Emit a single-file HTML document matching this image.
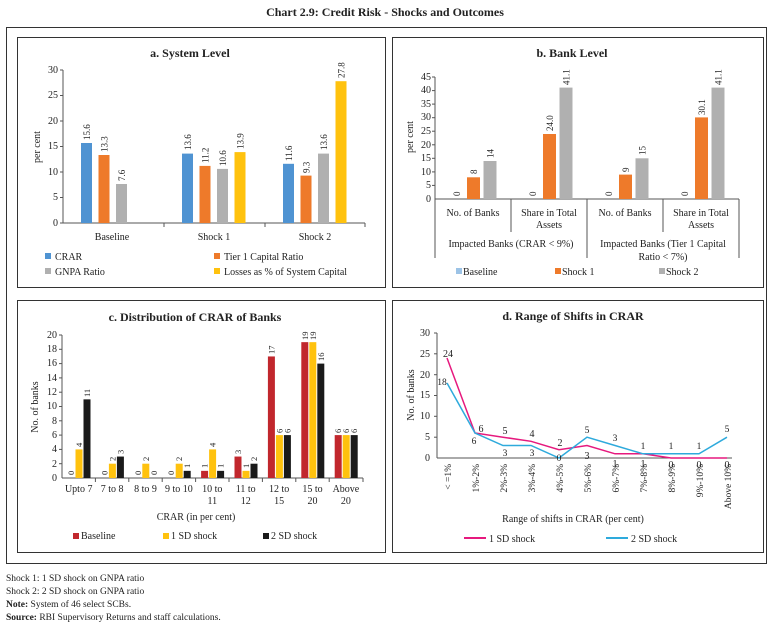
<!DOCTYPE html>
<html><head><meta charset="utf-8"><style>
html,body{margin:0;padding:0;background:#fff}
svg{display:block;font-family:"Liberation Serif",serif}
text{fill:#222}
</style></head><body>
<svg width="771" height="626" viewBox="0 0 771 626" xmlns="http://www.w3.org/2000/svg">
<text x="385" y="16" text-anchor="middle" font-size="12" font-weight="bold">Chart 2.9: Credit Risk - Shocks and Outcomes</text>
<rect x="6.5" y="27.5" width="760" height="536" fill="none" stroke="#333" stroke-width="1"/>
<rect x="17.5" y="37.5" width="368" height="250" fill="none" stroke="#333"/>
<rect x="392.5" y="37.5" width="371" height="250" fill="none" stroke="#333"/>
<rect x="17.5" y="300.5" width="368" height="252" fill="none" stroke="#333"/>
<rect x="392.5" y="300.5" width="371" height="252" fill="none" stroke="#333"/>

<!-- Panel a -->
<text x="190" y="57" text-anchor="middle" font-size="12" font-weight="bold">a. System Level</text>
<g font-size="10" text-anchor="end">
<text x="58" y="226">0</text><text x="58" y="200">5</text><text x="58" y="175">10</text><text x="58" y="149">15</text><text x="58" y="124">20</text><text x="58" y="98">25</text><text x="58" y="73">30</text>
</g>
<g stroke="#555"><line x1="63" y1="70" x2="63" y2="223"/><line x1="63" y1="223" x2="365" y2="223"/>
<line x1="60" y1="223" x2="63" y2="223"/><line x1="60" y1="197.5" x2="63" y2="197.5"/><line x1="60" y1="172" x2="63" y2="172"/><line x1="60" y1="146.5" x2="63" y2="146.5"/><line x1="60" y1="121" x2="63" y2="121"/><line x1="60" y1="95.5" x2="63" y2="95.5"/><line x1="60" y1="70" x2="63" y2="70"/>
<line x1="164" y1="223" x2="164" y2="227"/><line x1="265" y1="223" x2="265" y2="227"/><line x1="365" y1="223" x2="365" y2="227"/></g>
<text transform="translate(40,147) rotate(-90)" text-anchor="middle" font-size="10">per cent</text>
<g fill="#4f93d2"><rect x="81" y="143" width="11" height="80"/><rect x="182" y="153.6" width="11" height="69.4"/><rect x="283" y="163.8" width="11" height="59.2"/></g>
<g fill="#ee7a2a"><rect x="98.5" y="155" width="11" height="68"/><rect x="199.5" y="165.9" width="11" height="57.1"/><rect x="300.5" y="175.6" width="11" height="47.4"/></g>
<g fill="#b0b0b0"><rect x="116" y="184" width="11" height="39"/><rect x="217" y="168.9" width="11" height="54.1"/><rect x="318" y="153.6" width="11" height="69.4"/></g>
<g fill="#ffc20e"><rect x="234.5" y="152.1" width="11" height="70.9"/><rect x="335.5" y="81.2" width="11" height="141.8"/></g>
<g font-size="9">
<text transform="translate(90,140) rotate(-90)">15.6</text><text transform="translate(107.5,152) rotate(-90)">13.3</text><text transform="translate(125,181) rotate(-90)">7.6</text>
<text transform="translate(191,150) rotate(-90)">13.6</text><text transform="translate(208.5,163) rotate(-90)">11.2</text><text transform="translate(226,166) rotate(-90)">10.6</text><text transform="translate(243.5,149) rotate(-90)">13.9</text>
<text transform="translate(292,161) rotate(-90)">11.6</text><text transform="translate(309.5,173) rotate(-90)">9.3</text><text transform="translate(327,150) rotate(-90)">13.6</text><text transform="translate(344.5,78) rotate(-90)">27.8</text>
</g>
<g font-size="10" text-anchor="middle"><text x="112" y="240">Baseline</text><text x="214" y="240">Shock 1</text><text x="315" y="240">Shock 2</text></g>
<g font-size="10">
<rect x="45" y="253" width="6" height="6" fill="#4f93d2"/><text x="55" y="260">CRAR</text>
<rect x="45" y="268" width="6" height="6" fill="#b0b0b0"/><text x="55" y="275">GNPA Ratio</text>
<rect x="214" y="253" width="6" height="6" fill="#ee7a2a"/><text x="224" y="260">Tier 1  Capital Ratio</text>
<rect x="214" y="268" width="6" height="6" fill="#ffc20e"/><text x="224" y="275">Losses as % of System Capital</text>
</g>

<!-- Panel b -->
<text x="572" y="57" text-anchor="middle" font-size="12" font-weight="bold">b. Bank Level</text>
<g font-size="10" text-anchor="end">
<text x="431" y="202">0</text><text x="431" y="188">5</text><text x="431" y="175">10</text><text x="431" y="161">15</text><text x="431" y="148">20</text><text x="431" y="134">25</text><text x="431" y="120">30</text><text x="431" y="107">35</text><text x="431" y="93">40</text><text x="431" y="80">45</text>
</g>
<g stroke="#555"><line x1="435" y1="77" x2="435" y2="258"/><line x1="435" y1="199" x2="739" y2="199"/>
<line x1="432" y1="185.4" x2="435" y2="185.4"/><line x1="432" y1="171.9" x2="435" y2="171.9"/><line x1="432" y1="158.3" x2="435" y2="158.3"/><line x1="432" y1="144.8" x2="435" y2="144.8"/><line x1="432" y1="131.2" x2="435" y2="131.2"/><line x1="432" y1="117.7" x2="435" y2="117.7"/><line x1="432" y1="104.1" x2="435" y2="104.1"/><line x1="432" y1="90.6" x2="435" y2="90.6"/><line x1="432" y1="77" x2="435" y2="77"/>
<line x1="511" y1="199" x2="511" y2="232"/><line x1="587" y1="199" x2="587" y2="258"/><line x1="663" y1="199" x2="663" y2="232"/><line x1="739" y1="199" x2="739" y2="258"/></g>
<text transform="translate(413,137) rotate(-90)" text-anchor="middle" font-size="10">per cent</text>
<g fill="#ee7a2a"><rect x="467" y="177.3" width="13" height="21.7"/><rect x="543" y="134" width="13" height="65"/><rect x="619" y="174.6" width="13" height="24.4"/><rect x="695" y="117.4" width="13" height="81.6"/></g>
<g fill="#b0b0b0"><rect x="483.5" y="161" width="13" height="38"/><rect x="559.5" y="87.6" width="13" height="111.4"/><rect x="635.5" y="158.3" width="13" height="40.7"/><rect x="711.5" y="87.6" width="13" height="111.4"/></g>
<g font-size="9">
<text transform="translate(460,196) rotate(-90)">0</text><text transform="translate(536,196) rotate(-90)">0</text><text transform="translate(612,196) rotate(-90)">0</text><text transform="translate(688,196) rotate(-90)">0</text>
<text transform="translate(477,174) rotate(-90)">8</text><text transform="translate(493.5,158) rotate(-90)">14</text>
<text transform="translate(553,131) rotate(-90)">24.0</text><text transform="translate(569.5,85) rotate(-90)">41.1</text>
<text transform="translate(629,172) rotate(-90)">9</text><text transform="translate(645.5,155) rotate(-90)">15</text>
<text transform="translate(705,115) rotate(-90)">30.1</text><text transform="translate(721.5,85) rotate(-90)">41.1</text>
</g>
<g font-size="10" text-anchor="middle">
<text x="473" y="216">No. of Banks</text><text x="549" y="216">Share in Total</text><text x="549" y="228">Assets</text>
<text x="625" y="216">No. of Banks</text><text x="701" y="216">Share in Total</text><text x="701" y="228">Assets</text>
<text x="511" y="247">Impacted Banks (CRAR &lt; 9%)</text>
<text x="663" y="247">Impacted Banks (Tier 1  Capital</text><text x="663" y="260">Ratio &lt; 7%)</text>
</g>
<g font-size="10">
<rect x="456" y="268" width="6" height="6" fill="#9cc3e6"/><text x="463" y="275">Baseline</text>
<rect x="555" y="268" width="6" height="6" fill="#ee7a2a"/><text x="562" y="275">Shock 1</text>
<rect x="659" y="268" width="6" height="6" fill="#b0b0b0"/><text x="666" y="275">Shock 2</text>
</g>

<!-- Panel c -->
<text x="195" y="321" text-anchor="middle" font-size="12" font-weight="bold">c. Distribution of CRAR of Banks</text>
<g font-size="10" text-anchor="end">
<text x="57" y="481">0</text><text x="57" y="467">2</text><text x="57" y="452">4</text><text x="57" y="438">6</text><text x="57" y="424">8</text><text x="57" y="409">10</text><text x="57" y="395">12</text><text x="57" y="381">14</text><text x="57" y="366">16</text><text x="57" y="352">18</text><text x="57" y="338">20</text>
</g>
<g stroke="#555"><line x1="62" y1="335" x2="62" y2="478"/><line x1="62" y1="478" x2="363" y2="478"/>
<line x1="59" y1="463.7" x2="62" y2="463.7"/><line x1="59" y1="449.4" x2="62" y2="449.4"/><line x1="59" y1="435.1" x2="62" y2="435.1"/><line x1="59" y1="420.8" x2="62" y2="420.8"/><line x1="59" y1="406.5" x2="62" y2="406.5"/><line x1="59" y1="392.2" x2="62" y2="392.2"/><line x1="59" y1="377.9" x2="62" y2="377.9"/><line x1="59" y1="363.6" x2="62" y2="363.6"/><line x1="59" y1="349.3" x2="62" y2="349.3"/><line x1="59" y1="335" x2="62" y2="335"/>
<line x1="95.4" y1="478" x2="95.4" y2="482"/><line x1="128.8" y1="478" x2="128.8" y2="482"/><line x1="162.2" y1="478" x2="162.2" y2="482"/><line x1="195.6" y1="478" x2="195.6" y2="482"/><line x1="229" y1="478" x2="229" y2="482"/><line x1="262.4" y1="478" x2="262.4" y2="482"/><line x1="295.8" y1="478" x2="295.8" y2="482"/><line x1="329.2" y1="478" x2="329.2" y2="482"/><line x1="363" y1="478" x2="363" y2="482"/></g>
<text transform="translate(38,407) rotate(-90)" text-anchor="middle" font-size="10">No. of banks</text>
<g fill="#c1272d"><rect x="201.1" y="470.85" width="7" height="7.15"/><rect x="234.5" y="456.55" width="7" height="21.45"/><rect x="267.9" y="356.45" width="7" height="121.55"/><rect x="301.3" y="342.15" width="7" height="135.85"/><rect x="334.7" y="435.1" width="7" height="42.9"/></g>
<g fill="#ffc20e"><rect x="75.5" y="449.4" width="7" height="28.6"/><rect x="108.9" y="463.7" width="7" height="14.3"/><rect x="142.3" y="463.7" width="7" height="14.3"/><rect x="175.7" y="463.7" width="7" height="14.3"/><rect x="209.1" y="449.4" width="7" height="28.6"/><rect x="242.5" y="470.85" width="7" height="7.15"/><rect x="275.9" y="435.1" width="7" height="42.9"/><rect x="309.3" y="342.15" width="7" height="135.85"/><rect x="342.7" y="435.1" width="7" height="42.9"/></g>
<g fill="#1a1a1a"><rect x="83.5" y="399.35" width="7" height="78.65"/><rect x="116.9" y="456.55" width="7" height="21.45"/><rect x="183.7" y="470.85" width="7" height="7.15"/><rect x="217.1" y="470.85" width="7" height="7.15"/><rect x="250.5" y="463.7" width="7" height="14.3"/><rect x="283.9" y="435.1" width="7" height="42.9"/><rect x="317.3" y="363.6" width="7" height="114.4"/><rect x="350.7" y="435.1" width="7" height="42.9"/></g>
<g font-size="8.5">
<text transform="translate(74,475) rotate(-90)">0</text><text transform="translate(82,447) rotate(-90)">4</text><text transform="translate(90,397) rotate(-90)">11</text>
<text transform="translate(107.4,475) rotate(-90)">0</text><text transform="translate(115.4,461) rotate(-90)">2</text><text transform="translate(123.4,454) rotate(-90)">3</text>
<text transform="translate(140.8,475) rotate(-90)">0</text><text transform="translate(148.8,461) rotate(-90)">2</text><text transform="translate(156.8,475) rotate(-90)">0</text>
<text transform="translate(174.2,475) rotate(-90)">0</text><text transform="translate(182.2,461) rotate(-90)">2</text><text transform="translate(190.2,468) rotate(-90)">1</text>
<text transform="translate(207.6,468) rotate(-90)">1</text><text transform="translate(215.6,447) rotate(-90)">4</text><text transform="translate(223.6,468) rotate(-90)">1</text>
<text transform="translate(241,454) rotate(-90)">3</text><text transform="translate(249,468) rotate(-90)">1</text><text transform="translate(257,461) rotate(-90)">2</text>
<text transform="translate(274.4,354) rotate(-90)">17</text><text transform="translate(282.4,433) rotate(-90)">6</text><text transform="translate(290.4,433) rotate(-90)">6</text>
<text transform="translate(307.8,340) rotate(-90)">19</text><text transform="translate(315.8,340) rotate(-90)">19</text><text transform="translate(323.8,361) rotate(-90)">16</text>
<text transform="translate(341.2,433) rotate(-90)">6</text><text transform="translate(349.2,433) rotate(-90)">6</text><text transform="translate(357.2,433) rotate(-90)">6</text>
</g>
<g font-size="10" text-anchor="middle">
<text x="78.7" y="492">Upto 7</text><text x="112.1" y="492">7 to 8</text><text x="145.5" y="492">8 to 9</text><text x="178.9" y="492">9 to 10</text>
<text x="212.3" y="492">10 to</text><text x="212.3" y="504">11</text><text x="245.7" y="492">11 to</text><text x="245.7" y="504">12</text>
<text x="279.1" y="492">12 to</text><text x="279.1" y="504">15</text><text x="312.5" y="492">15 to</text><text x="312.5" y="504">20</text>
<text x="345.9" y="492">Above</text><text x="345.9" y="504">20</text>
<text x="196" y="520">CRAR (in per cent)</text>
</g>
<g font-size="10">
<rect x="73" y="533" width="6" height="6" fill="#c1272d"/><text x="81" y="539">Baseline</text>
<rect x="163" y="533" width="6" height="6" fill="#ffc20e"/><text x="171" y="539">1 SD shock</text>
<rect x="263" y="533" width="6" height="6" fill="#1a1a1a"/><text x="271" y="539">2 SD shock</text>
</g>

<!-- Panel d -->
<text x="573" y="320" text-anchor="middle" font-size="12" font-weight="bold">d. Range of Shifts in CRAR</text>
<g font-size="10" text-anchor="end">
<text x="430" y="461">0</text><text x="430" y="440">5</text><text x="430" y="419">10</text><text x="430" y="398">15</text><text x="430" y="378">20</text><text x="430" y="357">25</text><text x="430" y="336">30</text>
</g>
<g stroke="#555"><line x1="437" y1="333" x2="437" y2="458"/><line x1="437" y1="458" x2="732" y2="458"/>
<line x1="434" y1="437.2" x2="437" y2="437.2"/><line x1="434" y1="416.3" x2="437" y2="416.3"/><line x1="434" y1="395.5" x2="437" y2="395.5"/><line x1="434" y1="374.7" x2="437" y2="374.7"/><line x1="434" y1="353.8" x2="437" y2="353.8"/><line x1="434" y1="333" x2="437" y2="333"/></g>
<text transform="translate(414,395) rotate(-90)" text-anchor="middle" font-size="10">No. of banks</text>
<polyline fill="none" stroke="#e6197e" stroke-width="1.5" points="447,358 475,433 503,437.2 531,441.3 559,449.7 587,445.5 615,453.8 643,453.8 671,458 699,458 727,458"/>
<polyline fill="none" stroke="#2eaadc" stroke-width="1.5" points="447,383 475,433 503,445.5 531,445.5 559,458 587,437.2 615,445.5 643,453.8 671,453.8 699,453.8 727,437.2"/>
<g font-size="10" fill="#e6197e" text-anchor="middle">
<text x="448" y="357" fill="#e6197e">24</text><text x="481" y="432" fill="#e6197e">6</text><text x="505" y="434" fill="#e6197e">5</text><text x="532" y="437" fill="#e6197e">4</text><text x="560" y="446" fill="#e6197e">2</text><text x="587" y="459" fill="#e6197e">3</text><text x="615" y="467" fill="#e6197e">1</text><text x="643" y="467" fill="#e6197e">1</text><text x="671" y="468" fill="#e6197e">0</text><text x="699" y="468" fill="#e6197e">0</text><text x="727" y="468" fill="#e6197e">0</text>
</g>
<g font-size="9.5" text-anchor="middle">
<text x="442" y="385" fill="#2eaadc">18</text><text x="474" y="444" fill="#2eaadc">6</text><text x="505" y="456" fill="#2eaadc">3</text><text x="532" y="456" fill="#2eaadc">3</text><text x="559" y="461" fill="#2eaadc">0</text><text x="587" y="433" fill="#2eaadc">5</text><text x="615" y="441" fill="#2eaadc">3</text><text x="643" y="449" fill="#2eaadc">1</text><text x="671" y="449" fill="#2eaadc">1</text><text x="699" y="449" fill="#2eaadc">1</text><text x="727" y="432" fill="#2eaadc">5</text>
</g>
<g font-size="9.5" text-anchor="end">
<text transform="translate(451,464) rotate(-90)">&lt; =1%</text><text transform="translate(479,464) rotate(-90)">1%-2%</text><text transform="translate(507,464) rotate(-90)">2%-3%</text><text transform="translate(535,464) rotate(-90)">3%-4%</text><text transform="translate(563,464) rotate(-90)">4%-5%</text><text transform="translate(591,464) rotate(-90)">5%-6%</text><text transform="translate(619,464) rotate(-90)">6%-7%</text><text transform="translate(647,464) rotate(-90)">7%-8%</text><text transform="translate(675,464) rotate(-90)">8%-9%</text><text transform="translate(703,464) rotate(-90)">9%-10%</text><text transform="translate(731,464) rotate(-90)">Above 10%</text>
</g>
<text x="573" y="522" text-anchor="middle" font-size="10">Range of shifts in CRAR (per cent)</text>
<g font-size="10">
<line x1="464" y1="538" x2="486" y2="538" stroke="#e6197e" stroke-width="2"/><text x="489" y="542">1 SD shock</text>
<line x1="606" y1="538" x2="628" y2="538" stroke="#2eaadc" stroke-width="2"/><text x="631" y="542">2 SD shock</text>
</g>

<!-- footnotes -->
<g font-size="9.5">
<text x="6" y="581">Shock 1:  1 SD shock on GNPA ratio</text>
<text x="6" y="594">Shock 2:  2 SD shock on GNPA ratio</text>
<text x="6" y="607"><tspan font-weight="bold">Note:</tspan> System of 46 select SCBs.</text>
<text x="6" y="620"><tspan font-weight="bold">Source:</tspan> RBI Supervisory Returns and staff calculations.</text>
</g>
</svg>
</body></html>
